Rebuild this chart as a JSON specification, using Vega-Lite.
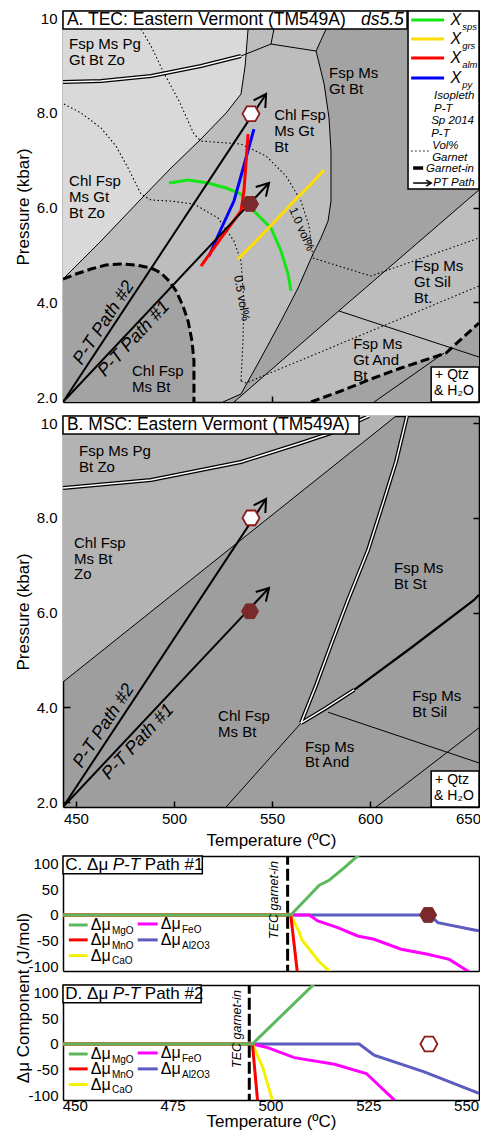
{
"$schema": "https://vega.github.io/schema/vega-lite/v6.json",
"background": "white",
"padding": {"left": 13, "top": 10, "right": 2, "bottom": 2},
"config": {
 "font": "Liberation Sans",
 "view": {"stroke": "black", "strokeWidth": 1.5},
 "axis": {"labelColor": "black", "titleColor": "black", "titleFontWeight": "normal", "grid": false, "zindex": 1, "domainColor": "black", "domainWidth": 1.5, "tickColor": "black", "tickWidth": 1.5}
},
"bounds": "flush",
"spacing": 14,
"resolve": {"scale": {"color": "independent", "fill": "independent"}},
"datasets": {
 "regions": [
  {"panel":"A","poly":"A1","shade":"light","i":0,"T":443.4,"P":10.15},
  {"panel":"A","poly":"A1","shade":"light","i":1,"T":538.8,"P":10.15},
  {"panel":"A","poly":"A1","shade":"light","i":2,"T":537.8,"P":9.769},
  {"panel":"A","poly":"A1","shade":"light","i":3,"T":536.3,"P":8.989},
  {"panel":"A","poly":"A1","shade":"light","i":4,"T":534.2,"P":8.398},
  {"panel":"A","poly":"A1","shade":"light","i":5,"T":526.6,"P":7.997},
  {"panel":"A","poly":"A1","shade":"light","i":6,"T":513.8,"P":7.449},
  {"panel":"A","poly":"A1","shade":"light","i":7,"T":498.5,"P":6.837},
  {"panel":"A","poly":"A1","shade":"light","i":8,"T":482.2,"P":6.14},
  {"panel":"A","poly":"A1","shade":"light","i":9,"T":462.8,"P":5.297},
  {"panel":"A","poly":"A1","shade":"light","i":10,"T":443.4,"P":4.495},
  {"panel":"A","poly":"A2","shade":"dark","i":0,"T":443.4,"P":4.495},
  {"panel":"A","poly":"A2","shade":"dark","i":1,"T":450.0,"P":4.6},
  {"panel":"A","poly":"A2","shade":"dark","i":2,"T":457.7,"P":4.706},
  {"panel":"A","poly":"A2","shade":"dark","i":3,"T":465.3,"P":4.79},
  {"panel":"A","poly":"A2","shade":"dark","i":4,"T":473.0,"P":4.811},
  {"panel":"A","poly":"A2","shade":"dark","i":5,"T":480.6,"P":4.79},
  {"panel":"A","poly":"A2","shade":"dark","i":6,"T":488.3,"P":4.727},
  {"panel":"A","poly":"A2","shade":"dark","i":7,"T":493.4,"P":4.622},
  {"panel":"A","poly":"A2","shade":"dark","i":8,"T":497.5,"P":4.453},
  {"panel":"A","poly":"A2","shade":"dark","i":9,"T":501.1,"P":4.242},
  {"panel":"A","poly":"A2","shade":"dark","i":10,"T":504.6,"P":3.925},
  {"panel":"A","poly":"A2","shade":"dark","i":11,"T":507.2,"P":3.609},
  {"panel":"A","poly":"A2","shade":"dark","i":12,"T":509.2,"P":3.187},
  {"panel":"A","poly":"A2","shade":"dark","i":13,"T":510.2,"P":2.765},
  {"panel":"A","poly":"A2","shade":"dark","i":14,"T":510.2,"P":2.343},
  {"panel":"A","poly":"A2","shade":"dark","i":15,"T":510.2,"P":1.9},
  {"panel":"A","poly":"A2","shade":"dark","i":16,"T":443.4,"P":1.9},
  {"panel":"A","poly":"A3","shade":"dark","i":0,"T":578.6,"P":10.15},
  {"panel":"A","poly":"A3","shade":"dark","i":1,"T":655.6,"P":10.15},
  {"panel":"A","poly":"A3","shade":"dark","i":2,"T":655.6,"P":6.373},
  {"panel":"A","poly":"A3","shade":"dark","i":3,"T":649.0,"P":6.14},
  {"panel":"A","poly":"A3","shade":"dark","i":4,"T":585.2,"P":3.862},
  {"panel":"A","poly":"A3","shade":"dark","i":5,"T":534.2,"P":2.027},
  {"panel":"A","poly":"A3","shade":"dark","i":6,"T":530.6,"P":1.9},
  {"panel":"A","poly":"A3","shade":"dark","i":7,"T":525.0,"P":1.9},
  {"panel":"A","poly":"A3","shade":"dark","i":8,"T":534.2,"P":2.069},
  {"panel":"A","poly":"A3","shade":"dark","i":9,"T":544.4,"P":2.828},
  {"panel":"A","poly":"A3","shade":"dark","i":10,"T":554.6,"P":3.609},
  {"panel":"A","poly":"A3","shade":"dark","i":11,"T":563.3,"P":4.305},
  {"panel":"A","poly":"A3","shade":"dark","i":12,"T":570.9,"P":5.022},
  {"panel":"A","poly":"A3","shade":"dark","i":13,"T":575.0,"P":5.36},
  {"panel":"A","poly":"A3","shade":"dark","i":14,"T":578.6,"P":5.719},
  {"panel":"A","poly":"A3","shade":"dark","i":15,"T":580.1,"P":6.14},
  {"panel":"A","poly":"A3","shade":"dark","i":16,"T":580.1,"P":7.195},
  {"panel":"A","poly":"A3","shade":"dark","i":17,"T":579.1,"P":7.892},
  {"panel":"A","poly":"A3","shade":"dark","i":18,"T":576.6,"P":8.609},
  {"panel":"A","poly":"A3","shade":"dark","i":19,"T":572.5,"P":9.305},
  {"panel":"A","poly":"A3","shade":"dark","i":20,"T":577.6,"P":9.769},
  {"panel":"A","poly":"A4","shade":"dark","i":0,"T":569.9,"P":1.9},
  {"panel":"A","poly":"A4","shade":"dark","i":1,"T":585.2,"P":2.132},
  {"panel":"A","poly":"A4","shade":"dark","i":2,"T":600.5,"P":2.385},
  {"panel":"A","poly":"A4","shade":"dark","i":3,"T":615.8,"P":2.617},
  {"panel":"A","poly":"A4","shade":"dark","i":4,"T":638.8,"P":2.934},
  {"panel":"A","poly":"A4","shade":"dark","i":5,"T":655.6,"P":3.567},
  {"panel":"A","poly":"A4","shade":"dark","i":6,"T":655.6,"P":1.9},
  {"panel":"B","poly":"B1","shade":"mid","i":0,"T":443.4,"P":10.15},
  {"panel":"B","poly":"B1","shade":"mid","i":1,"T":613.3,"P":10.15},
  {"panel":"B","poly":"B1","shade":"mid","i":2,"T":443.4,"P":4.537}
 ],
 "bnd": [
  {"panel":"A","id":"zo","kind":"thin","i":0,"T":443.4,"P":4.495},
  {"panel":"A","id":"zo","kind":"thin","i":1,"T":462.8,"P":5.297},
  {"panel":"A","id":"zo","kind":"thin","i":2,"T":482.2,"P":6.14},
  {"panel":"A","id":"zo","kind":"thin","i":3,"T":498.5,"P":6.837},
  {"panel":"A","id":"zo","kind":"thin","i":4,"T":513.8,"P":7.449},
  {"panel":"A","id":"zo","kind":"thin","i":5,"T":526.6,"P":7.997},
  {"panel":"A","id":"zo","kind":"thin","i":6,"T":534.2,"P":8.398},
  {"panel":"A","id":"zo","kind":"thin","i":7,"T":536.3,"P":8.989},
  {"panel":"A","id":"zo","kind":"thin","i":8,"T":537.8,"P":9.769},
  {"panel":"A","id":"zo","kind":"thin","i":9,"T":538.8,"P":10.15},
  {"panel":"A","id":"pg","kind":"double","i":0,"T":443.4,"P":8.651},
  {"panel":"A","id":"pg","kind":"double","i":1,"T":462.8,"P":8.672},
  {"panel":"A","id":"pg","kind":"double","i":2,"T":488.3,"P":8.778},
  {"panel":"A","id":"pg","kind":"double","i":3,"T":513.8,"P":8.989},
  {"panel":"A","id":"pg","kind":"double","i":4,"T":534.2,"P":9.2},
  {"panel":"A","id":"t1","kind":"thin","i":0,"T":534.2,"P":9.2},
  {"panel":"A","id":"t1","kind":"thin","i":1,"T":549.5,"P":9.453},
  {"panel":"A","id":"t2","kind":"thin","i":0,"T":549.5,"P":9.453},
  {"panel":"A","id":"t2","kind":"thin","i":1,"T":551.0,"P":9.769},
  {"panel":"A","id":"t2","kind":"thin","i":2,"T":551.5,"P":10.15},
  {"panel":"A","id":"t3","kind":"thin","i":0,"T":549.5,"P":9.453},
  {"panel":"A","id":"t3","kind":"thin","i":1,"T":572.5,"P":9.305},
  {"panel":"A","id":"t4","kind":"thin","i":0,"T":572.5,"P":9.305},
  {"panel":"A","id":"t4","kind":"thin","i":1,"T":577.6,"P":9.769},
  {"panel":"A","id":"t4","kind":"thin","i":2,"T":578.6,"P":10.15},
  {"panel":"A","id":"gb","kind":"thin","i":0,"T":572.5,"P":9.305},
  {"panel":"A","id":"gb","kind":"thin","i":1,"T":576.6,"P":8.609},
  {"panel":"A","id":"gb","kind":"thin","i":2,"T":579.1,"P":7.892},
  {"panel":"A","id":"gb","kind":"thin","i":3,"T":580.1,"P":7.195},
  {"panel":"A","id":"gb","kind":"thin","i":4,"T":580.1,"P":6.14},
  {"panel":"A","id":"gb","kind":"thin","i":5,"T":578.6,"P":5.719},
  {"panel":"A","id":"gb","kind":"thin","i":6,"T":575.0,"P":5.36},
  {"panel":"A","id":"gb","kind":"thin","i":7,"T":570.9,"P":5.022},
  {"panel":"A","id":"gb","kind":"thin","i":8,"T":563.3,"P":4.305},
  {"panel":"A","id":"gb","kind":"thin","i":9,"T":554.6,"P":3.609},
  {"panel":"A","id":"gb","kind":"thin","i":10,"T":544.4,"P":2.828},
  {"panel":"A","id":"gb","kind":"thin","i":11,"T":534.2,"P":2.069},
  {"panel":"A","id":"gb","kind":"thin","i":12,"T":525.0,"P":1.9},
  {"panel":"A","id":"sil","kind":"thin","i":0,"T":530.6,"P":1.9},
  {"panel":"A","id":"sil","kind":"thin","i":1,"T":534.2,"P":2.027},
  {"panel":"A","id":"sil","kind":"thin","i":2,"T":585.2,"P":3.862},
  {"panel":"A","id":"sil","kind":"thin","i":3,"T":649.0,"P":6.14},
  {"panel":"A","id":"sil","kind":"thin","i":4,"T":655.6,"P":6.373},
  {"panel":"A","id":"and","kind":"thin","i":0,"T":584.2,"P":3.82},
  {"panel":"A","id":"and","kind":"thin","i":1,"T":655.6,"P":2.849},
  {"panel":"A","id":"t5","kind":"thin","i":0,"T":602.1,"P":1.9},
  {"panel":"A","id":"t5","kind":"thin","i":1,"T":637.8,"P":2.934},
  {"panel":"A","id":"gi1","kind":"dash","i":0,"T":443.4,"P":4.495},
  {"panel":"A","id":"gi1","kind":"dash","i":1,"T":450.0,"P":4.6},
  {"panel":"A","id":"gi1","kind":"dash","i":2,"T":457.7,"P":4.706},
  {"panel":"A","id":"gi1","kind":"dash","i":3,"T":465.3,"P":4.79},
  {"panel":"A","id":"gi1","kind":"dash","i":4,"T":473.0,"P":4.811},
  {"panel":"A","id":"gi1","kind":"dash","i":5,"T":480.6,"P":4.79},
  {"panel":"A","id":"gi1","kind":"dash","i":6,"T":488.3,"P":4.727},
  {"panel":"A","id":"gi1","kind":"dash","i":7,"T":493.4,"P":4.622},
  {"panel":"A","id":"gi1","kind":"dash","i":8,"T":497.5,"P":4.453},
  {"panel":"A","id":"gi1","kind":"dash","i":9,"T":501.1,"P":4.242},
  {"panel":"A","id":"gi1","kind":"dash","i":10,"T":504.6,"P":3.925},
  {"panel":"A","id":"gi1","kind":"dash","i":11,"T":507.2,"P":3.609},
  {"panel":"A","id":"gi1","kind":"dash","i":12,"T":509.2,"P":3.187},
  {"panel":"A","id":"gi1","kind":"dash","i":13,"T":510.2,"P":2.765},
  {"panel":"A","id":"gi1","kind":"dash","i":14,"T":510.2,"P":2.343},
  {"panel":"A","id":"gi1","kind":"dash","i":15,"T":510.2,"P":1.9},
  {"panel":"A","id":"gi2","kind":"dash","i":0,"T":569.9,"P":1.9},
  {"panel":"A","id":"gi2","kind":"dash","i":1,"T":585.2,"P":2.132},
  {"panel":"A","id":"gi2","kind":"dash","i":2,"T":600.5,"P":2.385},
  {"panel":"A","id":"gi2","kind":"dash","i":3,"T":615.8,"P":2.617},
  {"panel":"A","id":"gi2","kind":"dash","i":4,"T":638.8,"P":2.934},
  {"panel":"A","id":"gi2","kind":"dash","i":5,"T":655.6,"P":3.567},
  {"panel":"A","id":"v1","kind":"dot","i":0,"T":483.2,"P":9.769},
  {"panel":"A","id":"v1","kind":"dot","i":1,"T":488.3,"P":9.41},
  {"panel":"A","id":"v1","kind":"dot","i":2,"T":494.9,"P":8.841},
  {"panel":"A","id":"v1","kind":"dot","i":3,"T":502.6,"P":8.25},
  {"panel":"A","id":"v1","kind":"dot","i":4,"T":510.2,"P":7.554},
  {"panel":"A","id":"v1","kind":"dot","i":5,"T":513.8,"P":7.406},
  {"panel":"A","id":"v1","kind":"dot","i":6,"T":534.2,"P":7.343},
  {"panel":"A","id":"v1","kind":"dot","i":7,"T":547.0,"P":7.09},
  {"panel":"A","id":"v1","kind":"dot","i":8,"T":557.2,"P":6.668},
  {"panel":"A","id":"v1","kind":"dot","i":9,"T":564.8,"P":6.14},
  {"panel":"A","id":"v1","kind":"dot","i":10,"T":568.9,"P":5.613},
  {"panel":"A","id":"v1","kind":"dot","i":11,"T":570.9,"P":4.938},
  {"panel":"A","id":"v1b","kind":"dot","i":0,"T":570.9,"P":4.938},
  {"panel":"A","id":"v1b","kind":"dot","i":1,"T":600.5,"P":4.558},
  {"panel":"A","id":"v1b","kind":"dot","i":2,"T":655.6,"P":5.36},
  {"panel":"A","id":"v2","kind":"dot","i":0,"T":443.9,"P":8.187},
  {"panel":"A","id":"v2","kind":"dot","i":1,"T":452.6,"P":7.997},
  {"panel":"A","id":"v2","kind":"dot","i":2,"T":462.8,"P":7.681},
  {"panel":"A","id":"v2","kind":"dot","i":3,"T":470.4,"P":7.301},
  {"panel":"A","id":"v2","kind":"dot","i":4,"T":476.6,"P":6.837},
  {"panel":"A","id":"v2","kind":"dot","i":5,"T":483.2,"P":6.288},
  {"panel":"A","id":"v2","kind":"dot","i":6,"T":488.3,"P":6.162},
  {"panel":"A","id":"v2","kind":"dot","i":7,"T":498.5,"P":6.14},
  {"panel":"A","id":"v2","kind":"dot","i":8,"T":510.2,"P":6.077},
  {"panel":"A","id":"v2","kind":"dot","i":9,"T":522.5,"P":5.782},
  {"panel":"A","id":"v2","kind":"dot","i":10,"T":530.6,"P":5.297},
  {"panel":"A","id":"v2","kind":"dot","i":11,"T":534.2,"P":4.875},
  {"panel":"A","id":"v2","kind":"dot","i":12,"T":535.7,"P":4.031},
  {"panel":"A","id":"v2","kind":"dot","i":13,"T":535.2,"P":3.187},
  {"panel":"A","id":"v2","kind":"dot","i":14,"T":534.2,"P":2.343},
  {"panel":"A","id":"v2b","kind":"dot","i":0,"T":534.2,"P":2.343},
  {"panel":"A","id":"v2b","kind":"dot","i":1,"T":536.8,"P":2.301},
  {"panel":"A","id":"v2b","kind":"dot","i":2,"T":655.6,"P":4.347},
  {"panel":"B","id":"zo","kind":"thin","i":0,"T":443.4,"P":4.537},
  {"panel":"B","id":"zo","kind":"thin","i":1,"T":613.3,"P":10.15},
  {"panel":"B","id":"pg","kind":"double","i":0,"T":443.4,"P":8.63},
  {"panel":"B","id":"pg","kind":"double","i":1,"T":488.3,"P":8.8},
  {"panel":"B","id":"pg","kind":"double","i":2,"T":534.2,"P":9.18},
  {"panel":"B","id":"pg","kind":"double","i":3,"T":564.8,"P":9.58},
  {"panel":"B","id":"pg","kind":"double","i":4,"T":580.1,"P":9.79},
  {"panel":"B","id":"pg","kind":"double","i":5,"T":599.5,"P":10.15},
  {"panel":"B","id":"st","kind":"double","i":0,"T":618.9,"P":10.15},
  {"panel":"B","id":"st","kind":"double","i":1,"T":613.3,"P":9.19},
  {"panel":"B","id":"st","kind":"double","i":2,"T":607.2,"P":8.38},
  {"panel":"B","id":"st","kind":"double","i":3,"T":599.0,"P":7.32},
  {"panel":"B","id":"st","kind":"double","i":4,"T":588.8,"P":6.27},
  {"panel":"B","id":"st","kind":"double","i":5,"T":580.1,"P":5.32},
  {"panel":"B","id":"st","kind":"double","i":6,"T":572.5,"P":4.47},
  {"panel":"B","id":"st","kind":"double","i":7,"T":564.8,"P":3.67},
  {"panel":"B","id":"ky1","kind":"double","i":0,"T":564.8,"P":3.67},
  {"panel":"B","id":"ky1","kind":"double","i":1,"T":577.6,"P":3.99},
  {"panel":"B","id":"ky1","kind":"double","i":2,"T":591.9,"P":4.37},
  {"panel":"B","id":"ky2","kind":"thick","i":0,"T":591.9,"P":4.37},
  {"panel":"B","id":"ky2","kind":"thick","i":1,"T":621.0,"P":5.26},
  {"panel":"B","id":"ky2","kind":"thick","i":2,"T":653.1,"P":6.27},
  {"panel":"B","id":"ky2","kind":"thick","i":3,"T":655.6,"P":6.38},
  {"panel":"B","id":"and","kind":"thin","i":0,"T":526.6,"P":1.9},
  {"panel":"B","id":"and","kind":"thin","i":1,"T":564.8,"P":3.67},
  {"panel":"B","id":"sil","kind":"thin","i":0,"T":578.6,"P":3.9},
  {"panel":"B","id":"sil","kind":"thin","i":1,"T":655.6,"P":2.83},
  {"panel":"B","id":"t6","kind":"thin","i":0,"T":603.1,"P":1.9},
  {"panel":"B","id":"t6","kind":"thin","i":1,"T":655.6,"P":3.57}
 ],
 "iso": [
  {"iso":"Xsps","i":0,"T":497.5,"P":6.52},
  {"iso":"Xsps","i":1,"T":507.2,"P":6.584},
  {"iso":"Xsps","i":2,"T":517.4,"P":6.52},
  {"iso":"Xsps","i":3,"T":526.6,"P":6.415},
  {"iso":"Xsps","i":4,"T":534.2,"P":6.288},
  {"iso":"Xsps","i":5,"T":540.8,"P":5.93},
  {"iso":"Xsps","i":6,"T":549.5,"P":5.571},
  {"iso":"Xsps","i":7,"T":554.6,"P":5.086},
  {"iso":"Xsps","i":8,"T":558.2,"P":4.6},
  {"iso":"Xsps","i":9,"T":559.7,"P":4.242},
  {"iso":"Xgrs","i":0,"T":532.7,"P":4.917},
  {"iso":"Xgrs","i":1,"T":544.4,"P":5.402},
  {"iso":"Xgrs","i":2,"T":561.3,"P":6.14},
  {"iso":"Xgrs","i":3,"T":570.0,"P":6.499},
  {"iso":"Xgrs","i":4,"T":576.6,"P":6.795},
  {"iso":"Xpy","i":0,"T":517.9,"P":4.98},
  {"iso":"Xpy","i":1,"T":524.0,"P":5.55},
  {"iso":"Xpy","i":2,"T":530.6,"P":6.14},
  {"iso":"Xpy","i":3,"T":534.2,"P":6.668},
  {"iso":"Xpy","i":4,"T":540.8,"P":7.659},
  {"iso":"Xalm","i":0,"T":513.8,"P":4.769},
  {"iso":"Xalm","i":1,"T":524.0,"P":5.36},
  {"iso":"Xalm","i":2,"T":534.2,"P":5.93},
  {"iso":"Xalm","i":3,"T":535.7,"P":6.351},
  {"iso":"Xalm","i":4,"T":536.8,"P":6.984},
  {"iso":"Xalm","i":5,"T":537.8,"P":7.554}
 ],
 "paths": [
  {"id":"p1","i":0,"T":443.4,"P":1.9},
  {"id":"p1","i":1,"T":548.5,"P":6.52},
  {"id":"p1h","i":0,"T":541.7,"P":6.436},
  {"id":"p1h","i":1,"T":548.5,"P":6.52},
  {"id":"p1h","i":2,"T":546.9,"P":6.233},
  {"id":"p2","i":0,"T":443.4,"P":1.9},
  {"id":"p2","i":1,"T":547.0,"P":8.398},
  {"id":"p2h","i":0,"T":540.6,"P":8.265},
  {"id":"p2h","i":1,"T":547.0,"P":8.398},
  {"id":"p2h","i":2,"T":546.6,"P":8.103}
 ],
 "hex": [
  {"panel":"A","kind":"isopleth","T":538.8,"P":6.08},
  {"panel":"A","kind":"sp2014","T":539.3,"P":7.98},
  {"panel":"A","kind":"isopleth","T":625.0,"P":8.187},
  {"panel":"A","kind":"sp2014","T":625.0,"P":7.681},
  {"panel":"B","kind":"isopleth","T":538.8,"P":6.03},
  {"panel":"B","kind":"sp2014","T":539.3,"P":8.0}
 ],
 "labels": [
  {"panel":"A","T":446.5,"P":9.453,"text":"Fsp Ms Pg\nGt Bt Zo"},
  {"panel":"A","T":446.5,"P":6.562,"text":"Chl Fsp\nMs Gt\nBt Zo"},
  {"panel":"A","T":551.1,"P":7.955,"text":"Chl Fsp\nMs Gt\nBt"},
  {"panel":"A","T":579.1,"P":8.841,"text":"Fsp Ms\nGt Bt"},
  {"panel":"A","T":622.5,"P":4.769,"text":"Fsp Ms\nGt Sil\nBt."},
  {"panel":"A","T":591.4,"P":3.124,"text":"Fsp Ms\nGt And\nBt"},
  {"panel":"A","T":478.6,"P":2.554,"text":"Chl Fsp\nMs Bt"},
  {"panel":"B","T":451.6,"P":9.41,"text":"Fsp Ms Pg\nBt Zo"},
  {"panel":"B","T":449.0,"P":7.47,"text":"Chl Fsp\nMs Bt\nZo"},
  {"panel":"B","T":612.3,"P":6.94,"text":"Fsp Ms\nBt St"},
  {"panel":"B","T":522.5,"P":3.82,"text":"Chl Fsp\nMs Bt"},
  {"panel":"B","T":566.9,"P":3.166,"text":"Fsp Ms\nBt And"},
  {"panel":"B","T":621.5,"P":4.242,"text":"Fsp Ms\nBt Sil"}
 ],
 "rot": [
  {"panel":"A","name":"p2","T":464.3,"P":3.567,"text":"P-T Path #2"},
  {"panel":"A","name":"p1","T":479.6,"P":3.229,"text":"P-T Path #1"},
  {"panel":"A","name":"vol1","T":565.3,"P":5.55,"text":"1.0 vol%"},
  {"panel":"A","name":"vol05","T":534.7,"P":4.09,"text":"0.5 vol%"},
  {"panel":"B","name":"p2","T":464.3,"P":3.609,"text":"P-T Path #2"},
  {"panel":"B","name":"p1","T":481.7,"P":3.271,"text":"P-T Path #1"}
 ],
 "boxes": [
  {"panel":"A","T":443.4,"P":9.769,"T2":618.9,"P2":10.15},
  {"panel":"A","T":619.4,"P":6.394,"T2":655.6,"P2":10.15},
  {"panel":"A","T":631.2,"P":1.9,"T2":655.6,"P2":2.64},
  {"panel":"B","T":443.4,"P":9.769,"T2":594.4,"P2":10.15},
  {"panel":"B","T":631.2,"P":1.9,"T2":655.6,"P2":2.66}
 ],
 "boxtext": [
  {"panel":"A","part":"title","T":445.4,"P":9.959,"text":"A. TEC: Eastern Vermont (TM549A)"},
  {"panel":"A","part":"ital","T":595.4,"P":9.959,"text":"ds5.5"},
  {"panel":"A","part":"qtz","T":633.2,"P":2.47,"text":"+ Qtz"},
  {"panel":"A","part":"qtz","T":632.7,"P":2.13,"text":"& H₂O"},
  {"panel":"B","part":"title","T":445.4,"P":9.959,"text":"B. MSC: Eastern Vermont (TM549A)"},
  {"panel":"B","part":"qtz","T":633.2,"P":2.47,"text":"+ Qtz"},
  {"panel":"B","part":"qtz","T":632.7,"P":2.13,"text":"& H₂O"}
 ],
 "legA": [
  {"kind":"iso","iso":"Xsps","i":0,"T":621.0,"P":9.959},
  {"kind":"iso","iso":"Xsps","i":1,"T":637.8,"P":9.959},
  {"kind":"iso","iso":"Xgrs","i":0,"T":621.0,"P":9.558},
  {"kind":"iso","iso":"Xgrs","i":1,"T":637.8,"P":9.558},
  {"kind":"iso","iso":"Xalm","i":0,"T":621.0,"P":9.157},
  {"kind":"iso","iso":"Xalm","i":1,"T":637.8,"P":9.157},
  {"kind":"iso","iso":"Xpy","i":0,"T":621.0,"P":8.735},
  {"kind":"iso","iso":"Xpy","i":1,"T":637.8,"P":8.735},
  {"kind":"X","T":641.0,"P":9.959,"text":"X"},
  {"kind":"X","T":641.0,"P":9.558,"text":"X"},
  {"kind":"X","T":641.0,"P":9.157,"text":"X"},
  {"kind":"X","T":641.0,"P":8.735,"text":"X"},
  {"kind":"sub","T":647.0,"P":9.811,"text":"sps"},
  {"kind":"sub","T":647.0,"P":9.41,"text":"grs"},
  {"kind":"sub","T":647.0,"P":9.009,"text":"alm"},
  {"kind":"sub","T":647.0,"P":8.587,"text":"py"},
  {"kind":"txt","T":632.7,"P":8.356,"text":"Isopleth\nP-T"},
  {"kind":"txt","T":631.2,"P":7.828,"text":"Sp 2014\nP-T"},
  {"kind":"txt2","T":631.7,"P":7.301,"text":"Vol%\nGarnet"},
  {"kind":"txt","T":628.6,"P":6.816,"text":"Garnet-in"},
  {"kind":"txt","T":632.2,"P":6.52,"text":"PT Path"},
  {"kind":"dot","id":"d","i":0,"T":621.0,"P":7.195},
  {"kind":"dot","id":"d","i":1,"T":630.1,"P":7.195},
  {"kind":"gi","id":"g","i":0,"T":622.0,"P":6.837},
  {"kind":"gi","id":"g","i":1,"T":627.1,"P":6.837},
  {"kind":"arr","id":"a","i":0,"T":622.0,"P":6.52},
  {"kind":"arr","id":"a","i":1,"T":631.2,"P":6.52},
  {"kind":"arr","id":"ah","i":0,"T":628.7,"P":6.583},
  {"kind":"arr","id":"ah","i":1,"T":631.2,"P":6.52},
  {"kind":"arr","id":"ah","i":2,"T":628.7,"P":6.457}
 ],
 "mu": [
  {"panel":"C","comp":"Al2O3","i":0,"T":447,"mu":0},
  {"panel":"C","comp":"Al2O3","i":1,"T":540.6,"mu":0},
  {"panel":"C","comp":"Al2O3","i":2,"T":542.8,"mu":-15},
  {"panel":"C","comp":"Al2O3","i":3,"T":552.1,"mu":-29.2},
  {"panel":"C","comp":"Al2O3","i":4,"T":553.3,"mu":-31},
  {"panel":"C","comp":"FeO","i":0,"T":447,"mu":0},
  {"panel":"C","comp":"FeO","i":1,"T":509.9,"mu":0},
  {"panel":"C","comp":"FeO","i":2,"T":512.1,"mu":-11.7},
  {"panel":"C","comp":"FeO","i":3,"T":517.2,"mu":-24.7},
  {"panel":"C","comp":"FeO","i":4,"T":522.3,"mu":-40.9},
  {"panel":"C","comp":"FeO","i":5,"T":526.5,"mu":-47.3},
  {"panel":"C","comp":"FeO","i":6,"T":533.4,"mu":-66.7},
  {"panel":"C","comp":"FeO","i":7,"T":540.2,"mu":-76.5},
  {"panel":"C","comp":"FeO","i":8,"T":545.7,"mu":-86.4},
  {"panel":"C","comp":"FeO","i":9,"T":550.4,"mu":-109},
  {"panel":"C","comp":"FeO","i":10,"T":551,"mu":-113},
  {"panel":"C","comp":"CaO","i":0,"T":447,"mu":0},
  {"panel":"C","comp":"CaO","i":1,"T":505.2,"mu":0},
  {"panel":"C","comp":"CaO","i":2,"T":507.3,"mu":-32.5},
  {"panel":"C","comp":"CaO","i":3,"T":508.1,"mu":-48.7},
  {"panel":"C","comp":"CaO","i":4,"T":512.3,"mu":-89.5},
  {"panel":"C","comp":"CaO","i":5,"T":515.6,"mu":-113},
  {"panel":"C","comp":"MnO","i":0,"T":447,"mu":0},
  {"panel":"C","comp":"MnO","i":1,"T":505.2,"mu":0},
  {"panel":"C","comp":"MnO","i":2,"T":506.9,"mu":-113},
  {"panel":"C","comp":"MgO","i":0,"T":447,"mu":0},
  {"panel":"C","comp":"MgO","i":1,"T":505.2,"mu":0},
  {"panel":"C","comp":"MgO","i":2,"T":512.5,"mu":57.8},
  {"panel":"C","comp":"MgO","i":3,"T":515.0,"mu":67.5},
  {"panel":"C","comp":"MgO","i":4,"T":518.9,"mu":92.0},
  {"panel":"C","comp":"MgO","i":5,"T":522.3,"mu":114.8},
  {"panel":"C","comp":"MgO","i":6,"T":523.1,"mu":120},
  {"panel":"D","comp":"Al2O3","i":0,"T":447,"mu":0},
  {"panel":"D","comp":"Al2O3","i":1,"T":522.7,"mu":0},
  {"panel":"D","comp":"Al2O3","i":2,"T":526.5,"mu":-21.9},
  {"panel":"D","comp":"Al2O3","i":3,"T":539.3,"mu":-54.4},
  {"panel":"D","comp":"Al2O3","i":4,"T":553.3,"mu":-96},
  {"panel":"D","comp":"FeO","i":0,"T":447,"mu":0},
  {"panel":"D","comp":"FeO","i":1,"T":495.4,"mu":0},
  {"panel":"D","comp":"FeO","i":2,"T":499.3,"mu":-7.2},
  {"panel":"D","comp":"FeO","i":3,"T":506.1,"mu":-26.6},
  {"panel":"D","comp":"FeO","i":4,"T":516.4,"mu":-39.4},
  {"panel":"D","comp":"FeO","i":5,"T":524.5,"mu":-57.5},
  {"panel":"D","comp":"FeO","i":6,"T":531.7,"mu":-109.3},
  {"panel":"D","comp":"FeO","i":7,"T":532.3,"mu":-113},
  {"panel":"D","comp":"CaO","i":0,"T":447,"mu":0},
  {"panel":"D","comp":"CaO","i":1,"T":495.4,"mu":0},
  {"panel":"D","comp":"CaO","i":2,"T":498.0,"mu":-44.7},
  {"panel":"D","comp":"CaO","i":3,"T":500.5,"mu":-109.3},
  {"panel":"D","comp":"CaO","i":4,"T":500.7,"mu":-113},
  {"panel":"D","comp":"MnO","i":0,"T":447,"mu":0},
  {"panel":"D","comp":"MnO","i":1,"T":495.4,"mu":0},
  {"panel":"D","comp":"MnO","i":2,"T":496.75,"mu":-113},
  {"panel":"D","comp":"MgO","i":0,"T":447,"mu":0},
  {"panel":"D","comp":"MgO","i":1,"T":495.4,"mu":0},
  {"panel":"D","comp":"MgO","i":2,"T":510.8,"mu":114},
  {"panel":"D","comp":"MgO","i":3,"T":511.5,"mu":120}
 ],
 "muann": [
  {"panel":"C","kind":"gi","T":504.4,"mu":-120,"mu2":120},
  {"panel":"D","kind":"gi","T":494.6,"mu":-120,"mu2":120},
  {"panel":"C","kind":"lab","T":500.9,"mu":29,"text":"TEC garnet-in"},
  {"panel":"D","kind":"lab","T":491.4,"mu":29,"text":"TEC garnet-in"},
  {"panel":"C","kind":"isopleth","T":540.3,"mu":0},
  {"panel":"D","kind":"sp2014","T":540.5,"mu":0}
 ],
 "mubox": [
  {"panel":"C","part":"box","T":447,"T2":482.6,"mu":80,"mu2":114.7},
  {"panel":"C","part":"a","T":447.6,"mu":97.5,"text":"C. Δμ"},
  {"panel":"C","part":"b","T":459.7,"mu":97.5,"text":"P-T"},
  {"panel":"C","part":"a","T":467.9,"mu":97.5,"text":"Path #1"},
  {"panel":"D","part":"box","T":447,"T2":482.3,"mu":80,"mu2":114.7},
  {"panel":"D","part":"a","T":447.6,"mu":97.5,"text":"D. Δμ"},
  {"panel":"D","part":"b","T":459.7,"mu":97.5,"text":"P-T"},
  {"panel":"D","part":"a","T":467.9,"mu":97.5,"text":"Path #2"}
 ],
 "muleg": [
  {"kind":"line","comp":"MgO","i":0,"T":448.5,"mu":-19.5},
  {"kind":"line","comp":"MgO","i":1,"T":453.3,"mu":-19.5},
  {"kind":"line","comp":"MnO","i":0,"T":448.5,"mu":-48.5},
  {"kind":"line","comp":"MnO","i":1,"T":453.3,"mu":-48.5},
  {"kind":"line","comp":"CaO","i":0,"T":448.5,"mu":-79},
  {"kind":"line","comp":"CaO","i":1,"T":453.3,"mu":-79},
  {"kind":"line","comp":"FeO","i":0,"T":466.1,"mu":-17.5},
  {"kind":"line","comp":"FeO","i":1,"T":471.2,"mu":-17.5},
  {"kind":"line","comp":"Al2O3","i":0,"T":466.1,"mu":-48.5},
  {"kind":"line","comp":"Al2O3","i":1,"T":471.2,"mu":-48.5},
  {"kind":"dmu","T":454.1,"mu":-19.5,"text":"Δμ"},
  {"kind":"dmu","T":454.1,"mu":-48.5,"text":"Δμ"},
  {"kind":"dmu","T":454.1,"mu":-79,"text":"Δμ"},
  {"kind":"dmu","T":472.0,"mu":-17.5,"text":"Δμ"},
  {"kind":"dmu","T":472.0,"mu":-48.5,"text":"Δμ"},
  {"kind":"sub","T":459.5,"mu":-31,"text":"MgO"},
  {"kind":"sub","T":459.5,"mu":-60,"text":"MnO"},
  {"kind":"sub","T":459.5,"mu":-90.5,"text":"CaO"},
  {"kind":"sub","T":477.4,"mu":-29,"text":"FeO"},
  {"kind":"sub","T":477.4,"mu":-60,"text":"Al2O3"}
 ]
},
"vconcat": [
 {
  "width": 416, "height": 391,
  "view": {"stroke": null, "fill": "#bdbdbd"},
  "encoding": {
   "x": {"field": "T", "type": "quantitative", "scale": {"domain": [443.4, 655.6], "nice": false, "zero": false}, "axis": null},
   "y": {"field": "P", "type": "quantitative", "scale": {"domain": [1.9, 10.15], "nice": false, "zero": false}, "axis": null}
  },
  "layer": [
   {"data": {"name": "regions"}, "transform": [{"filter": "datum.panel==='A'"}],
    "mark": {"type": "line", "strokeWidth": 0, "clip": true},
    "encoding": {
     "x": {"field": "T", "type": "quantitative", "scale": {"domain": [443.4, 655.6], "nice": false, "zero": false}, "axis": {"orient": "bottom", "values": [450, 500, 550, 600, 650], "labels": false, "tickSize": -6, "title": null}},
     "y": {"field": "P", "type": "quantitative", "scale": {"domain": [1.9, 10.15], "nice": false, "zero": false}, "axis": {"orient": "left", "values": [2, 4, 6, 8, 10], "labelExpr": "datum.value == 10 ? '10' : format(datum.value, '.1f')", "tickSize": -7, "labelPadding": 13, "labelFontSize": 15, "title": "Pressure (kbar)", "titleFontSize": 17, "titleX": -40, "titleBaseline": "middle"}},
     "order": {"field": "i", "type": "quantitative"},
     "detail": {"field": "poly", "type": "nominal"},
     "fill": {"field": "shade", "type": "nominal", "scale": {"domain": ["light", "dark"], "range": ["#d9d9d9", "#a3a3a3"]}, "legend": null}
    }},
   {"data": {"name": "bnd"}, "transform": [{"filter": "datum.panel==='A' && datum.kind==='thin'"}],
    "mark": {"type": "line", "color": "black", "strokeWidth": 1, "clip": true},
    "encoding": {"order": {"field": "i", "type": "quantitative"}, "detail": {"field": "id", "type": "nominal"}}},
   {"data": {"name": "bnd"}, "transform": [{"filter": "datum.panel==='A' && datum.kind==='dot'"}],
    "mark": {"type": "line", "color": "black", "strokeWidth": 1.1, "strokeDash": [1.5, 2.5], "clip": true},
    "encoding": {"order": {"field": "i", "type": "quantitative"}, "detail": {"field": "id", "type": "nominal"}}},
   {"data": {"name": "bnd"}, "transform": [{"filter": "datum.panel==='A' && datum.kind==='dash'"}],
    "mark": {"type": "line", "color": "black", "strokeWidth": 3, "strokeDash": [9, 4], "clip": true},
    "encoding": {"order": {"field": "i", "type": "quantitative"}, "detail": {"field": "id", "type": "nominal"}}},
   {"data": {"name": "bnd"}, "transform": [{"filter": "datum.panel==='A' && datum.kind==='double'"}],
    "mark": {"type": "line", "color": "black", "strokeWidth": 4, "clip": true},
    "encoding": {"order": {"field": "i", "type": "quantitative"}, "detail": {"field": "id", "type": "nominal"}}},
   {"data": {"name": "bnd"}, "transform": [{"filter": "datum.panel==='A' && datum.kind==='double'"}],
    "mark": {"type": "line", "color": "white", "strokeWidth": 1.5, "clip": true},
    "encoding": {"order": {"field": "i", "type": "quantitative"}, "detail": {"field": "id", "type": "nominal"}}},
   {"data": {"name": "iso"},
    "mark": {"type": "line", "strokeWidth": 3, "clip": true},
    "encoding": {"order": {"field": "i", "type": "quantitative"}, "color": {"field": "iso", "type": "nominal", "scale": {"domain": ["Xsps", "Xgrs", "Xalm", "Xpy"], "range": ["#14e614", "#ffdd00", "#ff0000", "#0000ff"]}, "legend": null}}},
   {"data": {"name": "paths"},
    "mark": {"type": "line", "color": "black", "strokeWidth": 2, "clip": true},
    "encoding": {"order": {"field": "i", "type": "quantitative"}, "detail": {"field": "id", "type": "nominal"}}},
   {"data": {"name": "hex"}, "transform": [{"filter": "datum.panel==='A' && datum.kind==='isopleth'"}],
    "mark": {"type": "point", "shape": "M-1,0L-0.5,-0.866L0.5,-0.866L1,0L0.5,0.866L-0.5,0.866Z", "size": 290, "filled": true, "fill": "#7a2a2a", "stroke": "#7a2a2a", "strokeWidth": 1, "opacity": 1}},
   {"data": {"name": "hex"}, "transform": [{"filter": "datum.panel==='A' && datum.kind==='sp2014'"}],
    "mark": {"type": "point", "shape": "M-1,0L-0.5,-0.866L0.5,-0.866L1,0L0.5,0.866L-0.5,0.866Z", "size": 290, "filled": true, "fill": "white", "stroke": "#8b1a1a", "strokeWidth": 1.8, "opacity": 1}},
   {"data": {"name": "labels"}, "transform": [{"filter": "datum.panel==='A'"}],
    "mark": {"type": "text", "align": "left", "baseline": "middle", "fontSize": 15, "lineBreak": "\n", "lineHeight": 16, "color": "black"},
    "encoding": {"text": {"field": "text", "type": "nominal"}}},
   {"data": {"name": "rot"}, "transform": [{"filter": "datum.panel==='A' && datum.name==='p2'"}],
    "mark": {"type": "text", "angle": 303.4, "fontSize": 18, "fontStyle": "italic", "align": "center", "baseline": "middle", "color": "black"},
    "encoding": {"text": {"field": "text", "type": "nominal"}}},
   {"data": {"name": "rot"}, "transform": [{"filter": "datum.panel==='A' && datum.name==='p1'"}],
    "mark": {"type": "text", "angle": 313, "fontSize": 18, "fontStyle": "italic", "align": "center", "baseline": "middle", "color": "black"},
    "encoding": {"text": {"field": "text", "type": "nominal"}}},
   {"data": {"name": "rot"}, "transform": [{"filter": "datum.panel==='A' && datum.name==='vol1'"}],
    "mark": {"type": "text", "angle": 66, "fontSize": 12, "align": "center", "baseline": "middle", "color": "black"},
    "encoding": {"text": {"field": "text", "type": "nominal"}}},
   {"data": {"name": "rot"}, "transform": [{"filter": "datum.panel==='A' && datum.name==='vol05'"}],
    "mark": {"type": "text", "angle": 80, "fontSize": 12, "align": "center", "baseline": "middle", "color": "black"},
    "encoding": {"text": {"field": "text", "type": "nominal"}}},
   {"data": {"name": "boxes"}, "transform": [{"filter": "datum.panel==='A'"}],
    "mark": {"type": "rect", "fill": "white", "stroke": "black", "strokeWidth": 1.5},
    "encoding": {
     "x": {"field": "T", "type": "quantitative", "scale": {"domain": [443.4, 655.6], "nice": false, "zero": false}, "axis": {"orient": "top", "labels": false, "ticks": false, "title": null}},
     "x2": {"field": "T2"},
     "y": {"field": "P", "type": "quantitative", "scale": {"domain": [1.9, 10.15], "nice": false, "zero": false}, "axis": {"orient": "right", "values": [2, 4, 6, 8, 10], "labels": false, "tickSize": -6, "title": null}},
     "y2": {"field": "P2"}
    }},
   {"data": {"name": "boxtext"}, "transform": [{"filter": "datum.panel==='A' && datum.part==='title'"}],
    "mark": {"type": "text", "align": "left", "baseline": "middle", "fontSize": 17.5, "color": "black"},
    "encoding": {"text": {"field": "text", "type": "nominal"}}},
   {"data": {"name": "boxtext"}, "transform": [{"filter": "datum.panel==='A' && datum.part==='ital'"}],
    "mark": {"type": "text", "align": "left", "baseline": "middle", "fontSize": 17.5, "fontStyle": "italic", "color": "black"},
    "encoding": {"text": {"field": "text", "type": "nominal"}}},
   {"data": {"name": "boxtext"}, "transform": [{"filter": "datum.panel==='A' && datum.part==='qtz'"}],
    "mark": {"type": "text", "align": "left", "baseline": "middle", "fontSize": 14, "color": "black"},
    "encoding": {"text": {"field": "text", "type": "nominal"}}},
   {"data": {"name": "legA"}, "transform": [{"filter": "datum.kind==='iso'"}],
    "mark": {"type": "line", "strokeWidth": 3},
    "encoding": {"order": {"field": "i", "type": "quantitative"}, "color": {"field": "iso", "type": "nominal", "scale": {"domain": ["Xsps", "Xgrs", "Xalm", "Xpy"], "range": ["#14e614", "#ffdd00", "#ff0000", "#0000ff"]}, "legend": null}}},
   {"data": {"name": "legA"}, "transform": [{"filter": "datum.kind==='X'"}],
    "mark": {"type": "text", "align": "left", "baseline": "middle", "fontSize": 16, "fontStyle": "italic", "color": "black"},
    "encoding": {"text": {"field": "text", "type": "nominal"}}},
   {"data": {"name": "legA"}, "transform": [{"filter": "datum.kind==='sub'"}],
    "mark": {"type": "text", "align": "left", "baseline": "middle", "fontSize": 9.5, "fontStyle": "italic", "color": "black"},
    "encoding": {"text": {"field": "text", "type": "nominal"}}},
   {"data": {"name": "legA"}, "transform": [{"filter": "datum.kind==='txt'"}],
    "mark": {"type": "text", "align": "left", "baseline": "middle", "fontSize": 11.5, "fontStyle": "italic", "lineBreak": "\n", "lineHeight": 13, "color": "black"},
    "encoding": {"text": {"field": "text", "type": "nominal"}}},
   {"data": {"name": "legA"}, "transform": [{"filter": "datum.kind==='txt2'"}],
    "mark": {"type": "text", "align": "left", "baseline": "middle", "fontSize": 11.5, "fontStyle": "italic", "lineBreak": "\n", "lineHeight": 12, "color": "black"},
    "encoding": {"text": {"field": "text", "type": "nominal"}}},
   {"data": {"name": "legA"}, "transform": [{"filter": "datum.kind==='dot'"}],
    "mark": {"type": "line", "color": "black", "strokeWidth": 1.1, "strokeDash": [1.5, 2.5]},
    "encoding": {"order": {"field": "i", "type": "quantitative"}}},
   {"data": {"name": "legA"}, "transform": [{"filter": "datum.kind==='gi'"}],
    "mark": {"type": "line", "color": "black", "strokeWidth": 3.5},
    "encoding": {"order": {"field": "i", "type": "quantitative"}}},
   {"data": {"name": "legA"}, "transform": [{"filter": "datum.kind==='arr'"}],
    "mark": {"type": "line", "color": "black", "strokeWidth": 1.5},
    "encoding": {"order": {"field": "i", "type": "quantitative"}, "detail": {"field": "id", "type": "nominal"}}}
  ],
  "resolve": {"axis": {"x": "independent", "y": "independent"}}
 },
 {
  "width": 416, "height": 391,
  "view": {"stroke": null, "fill": "#9e9e9e"},
  "encoding": {
   "x": {"field": "T", "type": "quantitative", "scale": {"domain": [443.4, 655.6], "nice": false, "zero": false}, "axis": null},
   "y": {"field": "P", "type": "quantitative", "scale": {"domain": [1.9, 10.15], "nice": false, "zero": false}, "axis": null}
  },
  "layer": [
   {"data": {"name": "regions"}, "transform": [{"filter": "datum.panel==='B'"}],
    "mark": {"type": "line", "strokeWidth": 0, "clip": true},
    "encoding": {
     "x": {"field": "T", "type": "quantitative", "scale": {"domain": [443.4, 655.6], "nice": false, "zero": false}, "axis": {"orient": "bottom", "values": [450, 500, 550, 600, 650], "tickSize": -6, "labelPadding": 10, "labelFontSize": 15, "title": "Temperature (ºC)", "titleFontSize": 17, "titlePadding": 6}},
     "y": {"field": "P", "type": "quantitative", "scale": {"domain": [1.9, 10.15], "nice": false, "zero": false}, "axis": {"orient": "left", "values": [2, 4, 6, 8, 10], "labelExpr": "datum.value == 10 ? '10' : format(datum.value, '.1f')", "tickSize": -7, "labelPadding": 13, "labelFontSize": 15, "title": "Pressure (kbar)", "titleFontSize": 17, "titleX": -40, "titleBaseline": "middle"}},
     "order": {"field": "i", "type": "quantitative"},
     "detail": {"field": "poly", "type": "nominal"},
     "fill": {"field": "shade", "type": "nominal", "scale": {"domain": ["mid"], "range": ["#b3b3b3"]}, "legend": null}
    }},
   {"data": {"name": "bnd"}, "transform": [{"filter": "datum.panel==='B' && datum.kind==='thin'"}],
    "mark": {"type": "line", "color": "black", "strokeWidth": 1, "clip": true},
    "encoding": {"order": {"field": "i", "type": "quantitative"}, "detail": {"field": "id", "type": "nominal"}}},
   {"data": {"name": "bnd"}, "transform": [{"filter": "datum.panel==='B' && datum.kind==='thick'"}],
    "mark": {"type": "line", "color": "black", "strokeWidth": 2.2, "clip": true},
    "encoding": {"order": {"field": "i", "type": "quantitative"}, "detail": {"field": "id", "type": "nominal"}}},
   {"data": {"name": "bnd"}, "transform": [{"filter": "datum.panel==='B' && datum.kind==='double'"}],
    "mark": {"type": "line", "color": "black", "strokeWidth": 4, "clip": true},
    "encoding": {"order": {"field": "i", "type": "quantitative"}, "detail": {"field": "id", "type": "nominal"}}},
   {"data": {"name": "bnd"}, "transform": [{"filter": "datum.panel==='B' && datum.kind==='double'"}],
    "mark": {"type": "line", "color": "white", "strokeWidth": 1.5, "clip": true},
    "encoding": {"order": {"field": "i", "type": "quantitative"}, "detail": {"field": "id", "type": "nominal"}}},
   {"data": {"name": "paths"},
    "mark": {"type": "line", "color": "black", "strokeWidth": 2, "clip": true},
    "encoding": {"order": {"field": "i", "type": "quantitative"}, "detail": {"field": "id", "type": "nominal"}}},
   {"data": {"name": "hex"}, "transform": [{"filter": "datum.panel==='B' && datum.kind==='isopleth'"}],
    "mark": {"type": "point", "shape": "M-1,0L-0.5,-0.866L0.5,-0.866L1,0L0.5,0.866L-0.5,0.866Z", "size": 290, "filled": true, "fill": "#7a2a2a", "stroke": "#7a2a2a", "strokeWidth": 1, "opacity": 1}},
   {"data": {"name": "hex"}, "transform": [{"filter": "datum.panel==='B' && datum.kind==='sp2014'"}],
    "mark": {"type": "point", "shape": "M-1,0L-0.5,-0.866L0.5,-0.866L1,0L0.5,0.866L-0.5,0.866Z", "size": 290, "filled": true, "fill": "white", "stroke": "#8b1a1a", "strokeWidth": 1.8, "opacity": 1}},
   {"data": {"name": "labels"}, "transform": [{"filter": "datum.panel==='B'"}],
    "mark": {"type": "text", "align": "left", "baseline": "middle", "fontSize": 15, "lineBreak": "\n", "lineHeight": 15.5, "color": "black"},
    "encoding": {"text": {"field": "text", "type": "nominal"}}},
   {"data": {"name": "rot"}, "transform": [{"filter": "datum.panel==='B' && datum.name==='p2'"}],
    "mark": {"type": "text", "angle": 303.4, "fontSize": 18, "fontStyle": "italic", "align": "center", "baseline": "middle", "color": "black"},
    "encoding": {"text": {"field": "text", "type": "nominal"}}},
   {"data": {"name": "rot"}, "transform": [{"filter": "datum.panel==='B' && datum.name==='p1'"}],
    "mark": {"type": "text", "angle": 313, "fontSize": 18, "fontStyle": "italic", "align": "center", "baseline": "middle", "color": "black"},
    "encoding": {"text": {"field": "text", "type": "nominal"}}},
   {"data": {"name": "boxes"}, "transform": [{"filter": "datum.panel==='B'"}],
    "mark": {"type": "rect", "fill": "white", "stroke": "black", "strokeWidth": 1.5},
    "encoding": {
     "x": {"field": "T", "type": "quantitative", "scale": {"domain": [443.4, 655.6], "nice": false, "zero": false}, "axis": {"orient": "top", "labels": false, "ticks": false, "title": null}},
     "x2": {"field": "T2"},
     "y": {"field": "P", "type": "quantitative", "scale": {"domain": [1.9, 10.15], "nice": false, "zero": false}, "axis": {"orient": "right", "values": [2, 4, 6, 8, 10], "labels": false, "tickSize": -6, "title": null}},
     "y2": {"field": "P2"}
    }},
   {"data": {"name": "boxtext"}, "transform": [{"filter": "datum.panel==='B' && datum.part==='title'"}],
    "mark": {"type": "text", "align": "left", "baseline": "middle", "fontSize": 17.5, "color": "black"},
    "encoding": {"text": {"field": "text", "type": "nominal"}}},
   {"data": {"name": "boxtext"}, "transform": [{"filter": "datum.panel==='B' && datum.part==='qtz'"}],
    "mark": {"type": "text", "align": "left", "baseline": "middle", "fontSize": 14, "color": "black"},
    "encoding": {"text": {"field": "text", "type": "nominal"}}}
  ],
  "resolve": {"axis": {"x": "independent", "y": "independent"}}
 },
 {
  "width": 416, "height": 21,
  "view": {"stroke": null},
  "data": {"values": [{"a": 0}]},
  "mark": {"type": "point", "opacity": 0},
  "encoding": {}
 },
 {
  "width": 416, "height": 115,
  "view": {"stroke": null},
  "encoding": {
   "x": {"field": "T", "type": "quantitative", "scale": {"domain": [447, 553.3], "nice": false, "zero": false}, "axis": null},
   "y": {"field": "mu", "type": "quantitative", "scale": {"domain": [-109, 114.7], "nice": false, "zero": false}, "axis": null}
  },
  "layer": [
   {"data": {"name": "mu"}, "transform": [{"filter": "datum.panel==='C'"}],
    "mark": {"type": "line", "strokeWidth": 3, "clip": true},
    "encoding": {
     "x": {"field": "T", "type": "quantitative", "scale": {"domain": [447, 553.3], "nice": false, "zero": false}, "axis": {"orient": "bottom", "labels": false, "ticks": false, "title": null}},
     "y": {"field": "mu", "type": "quantitative", "scale": {"domain": [-109, 114.7], "nice": false, "zero": false}, "axis": {"orient": "left", "values": [-100, -50, 0, 50, 100], "labelExpr": "'' + datum.value", "ticks": false, "labelPadding": 5, "labelFontSize": 15, "title": null}},
     "order": {"field": "i", "type": "quantitative"},
     "color": {"field": "comp", "type": "nominal", "scale": {"domain": ["MgO", "MnO", "CaO", "FeO", "Al2O3"], "range": ["#5cb85c", "#ff0000", "#f2f200", "#ff00ff", "#5b5bc0"]}, "legend": null}
    }},
   {"data": {"name": "muann"}, "transform": [{"filter": "datum.panel==='C' && datum.kind==='gi'"}],
    "mark": {"type": "rule", "color": "black", "strokeWidth": 3, "strokeDash": [12, 4], "clip": true},
    "encoding": {"y2": {"field": "mu2"}}},
   {"data": {"name": "muann"}, "transform": [{"filter": "datum.panel==='C' && datum.kind==='lab'"}],
    "mark": {"type": "text", "angle": 270, "fontSize": 12.5, "fontStyle": "italic", "align": "center", "baseline": "middle", "color": "black"},
    "encoding": {"text": {"field": "text", "type": "nominal"}}},
   {"data": {"name": "muann"}, "transform": [{"filter": "datum.panel==='C' && datum.kind==='isopleth'"}],
    "mark": {"type": "point", "shape": "M-1,0L-0.5,-0.866L0.5,-0.866L1,0L0.5,0.866L-0.5,0.866Z", "size": 290, "filled": true, "fill": "#7a2a2a", "stroke": "#7a2a2a", "strokeWidth": 1, "opacity": 1}},
   {"data": {"name": "mubox"}, "transform": [{"filter": "datum.panel==='C' && datum.part==='box'"}],
    "mark": {"type": "rect", "fill": "white", "stroke": "black", "strokeWidth": 1.5},
    "encoding": {
     "x": {"field": "T", "type": "quantitative", "scale": {"domain": [447, 553.3], "nice": false, "zero": false}, "axis": {"orient": "top", "labels": false, "ticks": false, "title": null}},
     "x2": {"field": "T2"},
     "y": {"field": "mu", "type": "quantitative", "scale": {"domain": [-109, 114.7], "nice": false, "zero": false}, "axis": {"orient": "right", "labels": false, "ticks": false, "title": null}},
     "y2": {"field": "mu2"}
    }},
   {"data": {"name": "mubox"}, "transform": [{"filter": "datum.panel==='C' && datum.part==='a'"}],
    "mark": {"type": "text", "align": "left", "baseline": "middle", "fontSize": 17, "color": "black"},
    "encoding": {"text": {"field": "text", "type": "nominal"}}},
   {"data": {"name": "mubox"}, "transform": [{"filter": "datum.panel==='C' && datum.part==='b'"}],
    "mark": {"type": "text", "align": "left", "baseline": "middle", "fontSize": 17, "fontStyle": "italic", "color": "black"},
    "encoding": {"text": {"field": "text", "type": "nominal"}}},
   {"data": {"name": "muleg"}, "transform": [{"filter": "datum.kind==='line'"}],
    "mark": {"type": "line", "strokeWidth": 3},
    "encoding": {"order": {"field": "i", "type": "quantitative"}, "color": {"field": "comp", "type": "nominal", "scale": {"domain": ["MgO", "MnO", "CaO", "FeO", "Al2O3"], "range": ["#5cb85c", "#ff0000", "#f2f200", "#ff00ff", "#5b5bc0"]}, "legend": null}}},
   {"data": {"name": "muleg"}, "transform": [{"filter": "datum.kind==='dmu'"}],
    "mark": {"type": "text", "align": "left", "baseline": "middle", "fontSize": 16, "color": "black"},
    "encoding": {"text": {"field": "text", "type": "nominal"}}},
   {"data": {"name": "muleg"}, "transform": [{"filter": "datum.kind==='sub'"}],
    "mark": {"type": "text", "align": "left", "baseline": "middle", "fontSize": 10, "color": "black"},
    "encoding": {"text": {"field": "text", "type": "nominal"}}}
  ],
  "resolve": {"axis": {"x": "independent", "y": "independent"}}
 },
 {
  "width": 416, "height": 115,
  "view": {"stroke": null},
  "encoding": {
   "x": {"field": "T", "type": "quantitative", "scale": {"domain": [447, 553.3], "nice": false, "zero": false}, "axis": null},
   "y": {"field": "mu", "type": "quantitative", "scale": {"domain": [-109, 114.7], "nice": false, "zero": false}, "axis": null}
  },
  "layer": [
   {"data": {"name": "mu"}, "transform": [{"filter": "datum.panel==='D'"}],
    "mark": {"type": "line", "strokeWidth": 3, "clip": true},
    "encoding": {
     "x": {"field": "T", "type": "quantitative", "scale": {"domain": [447, 553.3], "nice": false, "zero": false}, "axis": {"orient": "bottom", "values": [450, 475, 500, 525, 550], "ticks": false, "labelPadding": -2, "labelFontSize": 15, "title": "Temperature (ºC)", "titleFontSize": 17, "titlePadding": 0}},
     "y": {"field": "mu", "type": "quantitative", "scale": {"domain": [-109, 114.7], "nice": false, "zero": false}, "axis": {"orient": "left", "values": [-100, -50, 0, 50, 100], "labelExpr": "'' + datum.value", "ticks": false, "labelPadding": 5, "labelFontSize": 15, "title": "Δμ Component (J/mol)", "titleFontSize": 17, "titleX": -40, "titleY": 12.5, "titleBaseline": "middle"}},
     "order": {"field": "i", "type": "quantitative"},
     "color": {"field": "comp", "type": "nominal", "scale": {"domain": ["MgO", "MnO", "CaO", "FeO", "Al2O3"], "range": ["#5cb85c", "#ff0000", "#f2f200", "#ff00ff", "#5b5bc0"]}, "legend": null}
    }},
   {"data": {"name": "muann"}, "transform": [{"filter": "datum.panel==='D' && datum.kind==='gi'"}],
    "mark": {"type": "rule", "color": "black", "strokeWidth": 3, "strokeDash": [12, 4], "clip": true},
    "encoding": {"y2": {"field": "mu2"}}},
   {"data": {"name": "muann"}, "transform": [{"filter": "datum.panel==='D' && datum.kind==='lab'"}],
    "mark": {"type": "text", "angle": 270, "fontSize": 12.5, "fontStyle": "italic", "align": "center", "baseline": "middle", "color": "black"},
    "encoding": {"text": {"field": "text", "type": "nominal"}}},
   {"data": {"name": "muann"}, "transform": [{"filter": "datum.panel==='D' && datum.kind==='sp2014'"}],
    "mark": {"type": "point", "shape": "M-1,0L-0.5,-0.866L0.5,-0.866L1,0L0.5,0.866L-0.5,0.866Z", "size": 290, "filled": true, "fill": "white", "stroke": "#8b1a1a", "strokeWidth": 1.8, "opacity": 1}},
   {"data": {"name": "mubox"}, "transform": [{"filter": "datum.panel==='D' && datum.part==='box'"}],
    "mark": {"type": "rect", "fill": "white", "stroke": "black", "strokeWidth": 1.5},
    "encoding": {
     "x": {"field": "T", "type": "quantitative", "scale": {"domain": [447, 553.3], "nice": false, "zero": false}, "axis": {"orient": "top", "labels": false, "ticks": false, "title": null}},
     "x2": {"field": "T2"},
     "y": {"field": "mu", "type": "quantitative", "scale": {"domain": [-109, 114.7], "nice": false, "zero": false}, "axis": {"orient": "right", "labels": false, "ticks": false, "title": null}},
     "y2": {"field": "mu2"}
    }},
   {"data": {"name": "mubox"}, "transform": [{"filter": "datum.panel==='D' && datum.part==='a'"}],
    "mark": {"type": "text", "align": "left", "baseline": "middle", "fontSize": 17, "color": "black"},
    "encoding": {"text": {"field": "text", "type": "nominal"}}},
   {"data": {"name": "mubox"}, "transform": [{"filter": "datum.panel==='D' && datum.part==='b'"}],
    "mark": {"type": "text", "align": "left", "baseline": "middle", "fontSize": 17, "fontStyle": "italic", "color": "black"},
    "encoding": {"text": {"field": "text", "type": "nominal"}}},
   {"data": {"name": "muleg"}, "transform": [{"filter": "datum.kind==='line'"}],
    "mark": {"type": "line", "strokeWidth": 3},
    "encoding": {"order": {"field": "i", "type": "quantitative"}, "color": {"field": "comp", "type": "nominal", "scale": {"domain": ["MgO", "MnO", "CaO", "FeO", "Al2O3"], "range": ["#5cb85c", "#ff0000", "#f2f200", "#ff00ff", "#5b5bc0"]}, "legend": null}}},
   {"data": {"name": "muleg"}, "transform": [{"filter": "datum.kind==='dmu'"}],
    "mark": {"type": "text", "align": "left", "baseline": "middle", "fontSize": 16, "color": "black"},
    "encoding": {"text": {"field": "text", "type": "nominal"}}},
   {"data": {"name": "muleg"}, "transform": [{"filter": "datum.kind==='sub'"}],
    "mark": {"type": "text", "align": "left", "baseline": "middle", "fontSize": 10, "color": "black"},
    "encoding": {"text": {"field": "text", "type": "nominal"}}}
  ],
  "resolve": {"axis": {"x": "independent", "y": "independent"}}
 }
]
}
